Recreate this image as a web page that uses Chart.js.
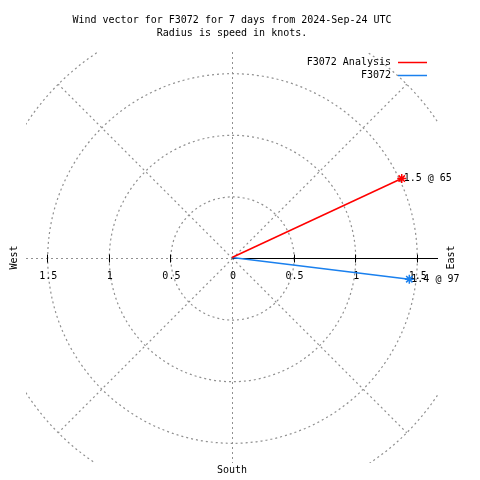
<!DOCTYPE html>
<html>
<head>
<meta charset="utf-8">
<script src="https://cdn.jsdelivr.net/npm/chart.js@4"></script>
<style>
  html, body { margin: 0; padding: 0; background: #fff; }
  #windChart { display: block; }
</style>
</head>
<body>
<canvas id="windChart" width="480" height="480"></canvas>
<script>
// data
let seriesNames = ['F3072 Analysis', 'F3072'];
let seriesSpeeds = [1.52, 1.45];      // knots
let seriesDirections = [65, 97];      // degrees from north, clockwise
let seriesColors = ['#ff0000', '#1a80ee'];

let ringSpeeds = [0.5, 1, 1.5, 2];
let spokeDirections = [45, 135, 225, 315];
let tickValues = [-1.5, -1, -0.5, 0, 0.5, 1, 1.5];
let tickLabels = ['1.5', '1', '0.5', '0', '0.5', '1', '1.5'];
let axisMax = 1.672;

let titleLines = ['Wind vector for F3072 for 7 days from 2024-Sep-24 UTC', 'Radius is speed in knots.'];

const FONT = '10px "DejaVu Sans Mono", monospace';

function toXY(speed, dir) {
    let rad = dir * Math.PI / 180;
    return { x: speed * Math.sin(rad), y: speed * Math.cos(rad) };
}

let datasets = seriesNames.map((name, i) => {
    let tip = toXY(seriesSpeeds[i], seriesDirections[i]);
    return {
        label: name,
        data: [{ x: 0, y: 0 }, tip],
        showLine: true,
        borderColor: seriesColors[i],
        backgroundColor: seriesColors[i],
        borderWidth: 1.5,
        pointStyle: 'star',
        pointRadius: [0, 4.5],
        pointBorderWidth: 1.5,
    };
});

// grid circles, spokes, axis, labels
const polarGrid = {
    id: 'polarGrid',
    beforeDatasetsDraw(chart) {
        const { ctx, chartArea: a, scales: { x, y } } = chart;
        const cx = Math.round(x.getPixelForValue(0)) + 0.5;
        const cy = Math.round(y.getPixelForValue(0)) + 0.5;
        const k = x.getPixelForValue(1) - x.getPixelForValue(0);
        ctx.save();
        ctx.beginPath();
        ctx.rect(a.left, a.top, a.width, a.height);
        ctx.clip();
        ctx.strokeStyle = '#909090';
        ctx.lineWidth = 1.2;
        ctx.setLineDash([2, 3]);
        ringSpeeds.forEach(r => {
            ctx.beginPath();
            ctx.arc(cx, cy, r * k, 0, Math.PI * 2);
            ctx.stroke();
        });
        let outer = ringSpeeds[ringSpeeds.length - 1];
        spokeDirections.forEach(d => {
            let p = toXY(outer, d);
            ctx.beginPath();
            ctx.moveTo(cx, cy);
            ctx.lineTo(cx + p.x * k, cy - p.y * k);
            ctx.stroke();
        });
        ctx.lineWidth = 1;
        ctx.beginPath();
        ctx.moveTo(cx, a.top);
        ctx.lineTo(cx, a.bottom);
        ctx.moveTo(a.left, cy);
        ctx.lineTo(cx, cy);
        ctx.stroke();
        ctx.restore();

        // solid east axis with ticks
        ctx.save();
        ctx.strokeStyle = '#000';
        ctx.lineWidth = 1;
        ctx.beginPath();
        ctx.moveTo(cx, cy);
        ctx.lineTo(a.right, cy);
        tickValues.forEach(v => {
            if (v === 0) return;
            let px = Math.round(x.getPixelForValue(v)) + 0.5;
            ctx.moveTo(px, cy - 4);
            ctx.lineTo(px, cy + 4);
        });
        ctx.stroke();

        ctx.fillStyle = '#000';
        ctx.font = FONT;
        ctx.textAlign = 'center';
        ctx.textBaseline = 'middle';
        tickValues.forEach((v, i) => {
            ctx.fillText(tickLabels[i], x.getPixelForValue(v) + 1, cy + 18);
        });
        ctx.restore();
    },
    afterDatasetsDraw(chart) {
        const { ctx, scales: { x, y } } = chart;
        ctx.save();
        ctx.fillStyle = '#000';
        ctx.font = FONT;
        ctx.textAlign = 'left';
        ctx.textBaseline = 'middle';
        seriesNames.forEach((n, i) => {
            let p = toXY(seriesSpeeds[i], seriesDirections[i]);
            ctx.fillText(seriesSpeeds[i].toFixed(1) + ' @ ' + seriesDirections[i],
                x.getPixelForValue(p.x) + 2, y.getPixelForValue(p.y));
        });
        ctx.restore();
    },
    afterDraw(chart) {
        const { ctx, scales: { x, y } } = chart;
        const cx = x.getPixelForValue(0);
        const cy = y.getPixelForValue(0);
        ctx.save();
        ctx.fillStyle = '#000';
        ctx.font = FONT;
        ctx.textBaseline = 'middle';
        ctx.textAlign = 'center';
        titleLines.forEach((t, i) => ctx.fillText(t, 232, 20 + i * 13));
        ctx.fillText('South', cx, 470);

        // legend
        ctx.textAlign = 'right';
        seriesNames.forEach((n, i) => {
            let ly = 62 + i * 13;
            ctx.fillText(n, 391, ly);
            ctx.strokeStyle = seriesColors[i];
            ctx.lineWidth = 1.5;
            ctx.beginPath();
            ctx.moveTo(398, ly + 0.5);
            ctx.lineTo(427, ly + 0.5);
            ctx.stroke();
        });

        // rotated compass labels
        ctx.textAlign = 'center';
        [['West', 14], ['East', 451]].forEach(([t, lx]) => {
            ctx.save();
            ctx.translate(lx, cy);
            ctx.rotate(-Math.PI / 2);
            ctx.fillText(t, 0, 0);
            ctx.restore();
        });
        ctx.restore();
    }
};

new Chart(document.getElementById('windChart'), {
    type: 'scatter',
    data: { datasets: datasets },
    options: {
        responsive: false,
        animation: false,
        layout: { padding: { left: 26, right: 42, top: 52, bottom: 17 } },
        scales: {
            x: { display: false, min: -axisMax, max: axisMax },
            y: { display: false, min: -axisMax, max: axisMax }
        },
        plugins: {
            legend: { display: false },
            tooltip: { enabled: false }
        }
    },
    plugins: [polarGrid]
});
</script>
</body>
</html>
